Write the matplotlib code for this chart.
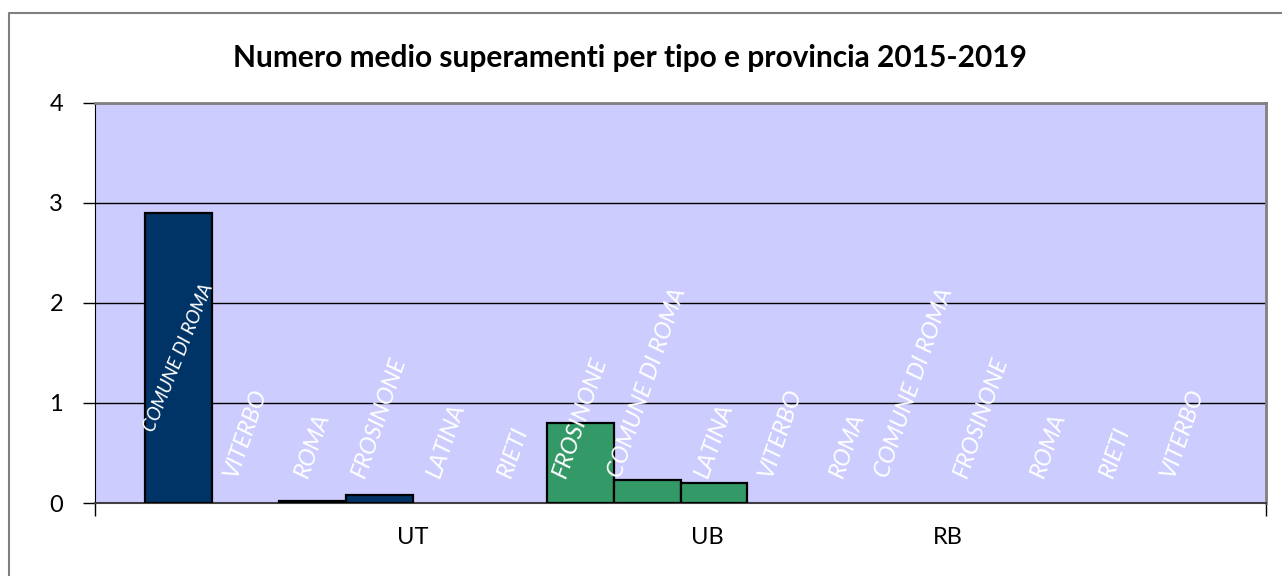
import numpy as np
import matplotlib.pyplot as plt
from matplotlib.lines import Line2D

# data
province = ["COMUNE DI ROMA", "VITERBO", "ROMA", "FROSINONE", "LATINA", "RIETI",
            "FROSINONE", "COMUNE DI ROMA", "LATINA", "VITERBO", "ROMA",
            "COMUNE DI ROMA", "FROSINONE", "ROMA", "RIETI", "VITERBO"]
tipo = ["UT"] * 6 + ["UB"] * 5 + ["RB"] * 5
superamenti = [2.9, 0, 0.02, 0.08, 0, 0, 0.8, 0.23, 0.2, 0, 0, 0, 0, 0, 0, 0]
gruppi = ["UT", "UB", "RB"]
pos_gruppi = [3.5, 7.9, 11.5]
colori = {"UT": "#003366", "UB": "#339966", "RB": "#993366"}

plt.rcParams['font.family'] = ['Lato', 'DejaVu Sans']

fig = plt.figure(figsize=(12.82, 5.76), dpi=100)
ax = fig.add_axes([95 / 1282, 73 / 576, (1266 - 95) / 1282, (503 - 102.5) / 576])
ax.set_facecolor("#CCCCFF")

x = np.arange(len(superamenti))
bar_colors = [colori[t] for t in tipo]
edges = ["black" if v > 0 else "none" for v in superamenti]
ax.bar(x, superamenti, width=1.0, color=bar_colors, edgecolor=edges,
       linewidth=1.6, zorder=3)

# data labels: centred inside the bar if it fits, otherwise pushed up from the base
for xi, v, nome in zip(x, superamenti, province):
    if v > 1.5:
        ax.text(xi, v / 2, nome, rotation=68, ha="center", va="center",
                color="white", style="italic", fontsize=13.5, zorder=4)
    else:
        ax.text(xi, 0.23, nome, rotation=71, ha="center", va="bottom",
                color="white", style="italic", fontsize=17, zorder=4)

ax.set_xlim(-1.25, len(superamenti) - 1 + 1.25)
ax.set_ylim(0, 4)
ax.set_yticks([0, 1, 2, 3, 4])
ax.tick_params(axis="y", labelsize=17, length=9, width=1, direction="out", pad=14)
ax.yaxis.grid(True, color="black", linewidth=1)
ax.set_axisbelow(True)

ax.set_xticks([ax.get_xlim()[0], ax.get_xlim()[1]])
ax.set_xticklabels(["", ""])
ax.tick_params(axis="x", length=9, width=1, direction="out")
for g, p in zip(gruppi, pos_gruppi):
    ax.text(p, -0.34, g, ha="center", va="center", fontsize=17)

for s in ["top", "right"]:
    ax.spines[s].set_color("#808080")
    ax.spines[s].set_linewidth(2)
ax.spines["bottom"].set_color("#404040")
ax.spines["bottom"].set_linewidth(1.5)
ax.spines["left"].set_color("black")

fig.text(0.491, 1 - 58 / 576, "Numero medio superamenti per tipo e provincia 2015-2019",
         ha="center", va="center", fontsize=21.5, fontweight="bold")

# outer chart border (top and left visible)
fig.add_artist(Line2D([9 / 1282, 9 / 1282, 1.0], [0.0, 1 - 13 / 576, 1 - 13 / 576],
                      transform=fig.transFigure, color="#808080", linewidth=1.5))

fig.savefig("out.png", dpi=100)
